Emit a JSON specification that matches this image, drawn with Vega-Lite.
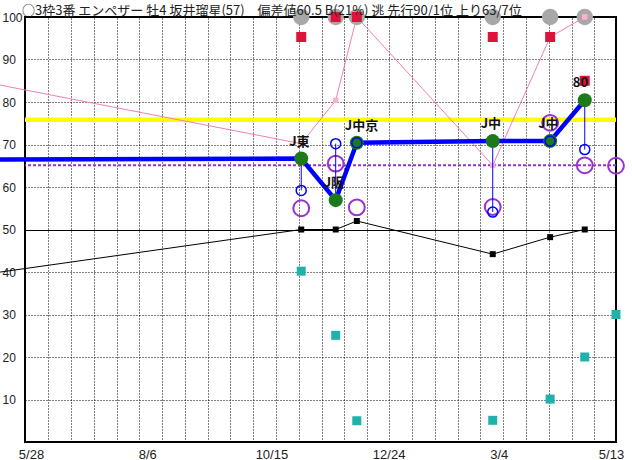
{
  "$schema": "https://vega.github.io/schema/vega-lite/v6.json",
  "width": 591,
  "height": 425,
  "autosize": "none",
  "padding": {"left": 25, "top": 17, "right": 16, "bottom": 18},
  "background": "white",
  "title": {
    "text": "○3枠3番 エンペザー 牡4 坂井瑠星(57)　偏差値60.5 B(21%) 逃 先行90/1位 上り63/7位",
    "anchor": "start",
    "frame": "group",
    "font": "Noto Sans CJK JP",
    "fontSize": 13,
    "fontWeight": "normal",
    "color": "#222222",
    "dx": -3,
    "offset": -9
  },
  "config": {
    "view": {"stroke": "#000000", "strokeWidth": 2},
    "axis": {"domain": false, "ticks": false}
  },
  "resolve": {"axis": {"x": "independent"}},
  "datasets": {
    "races": [
      {"date": "2022-04-08T00:00:00Z", "score": 66.45, "pink": 86.7, "black": 38.0},
      {"date": "2022-11-07T14:00:00Z", "score": 66.7, "sub": 59.2, "purple": 55.0, "gray": 100, "red": 95.3, "pink": 70.2, "black": 50.0, "teal": 40.2, "label": "J東"},
      {"date": "2022-11-28T00:00:00Z", "score": 56.9, "sub": 70.2, "purple": 65.5, "gray": 100, "red": 100, "pink": 80.4, "black": 50.0, "teal": 25.1, "label": "J阪"},
      {"date": "2022-12-10T12:00:00Z", "score": 70.4, "sub": 70.4, "purple": 55.2, "gray": 100, "red": 100, "pink": 100, "black": 52.0, "teal": 5.0, "label": "J中京"},
      {"date": "2023-03-01T00:00:00Z", "score": 70.8, "sub": 54.1, "purple": 55.3, "gray": 100, "red": 95.3, "pink": 65.1, "black": 44.2, "teal": 5.1, "label": "J中"},
      {"date": "2023-04-04T00:00:00Z", "score": 70.8, "sub": 70.8, "purple": 75.1, "gray": 100, "red": 95.3, "pink": 95.3, "black": 48.2, "teal": 10.1, "label": "J中"},
      {"date": "2023-04-24T12:00:00Z", "score": 80.4, "sub": 68.8, "purple": 65.1, "gray": 100, "red": 85.0, "pink": 100, "black": 50.0, "teal": 20.0, "label": "80"},
      {"date": "2023-05-13T00:00:00Z", "purple": 65.0, "teal": 30.0}
    ],
    "refs": [
      {"kind": "yellow", "level": 75.8},
      {"kind": "purple", "level": 65.1}
    ]
  },
  "layer": [
    {
      "data": {"name": "refs"},
      "transform": [{"filter": "datum.kind == 'yellow'"}],
      "mark": {"type": "rule", "color": "#FFFF00", "strokeWidth": 4.5},
      "encoding": {
        "y": {
          "field": "level", "type": "quantitative", "title": null,
          "scale": {"domain": [0, 100], "nice": false, "zero": false},
          "axis": {
            "title": null,
            "values": [10, 20, 30, 40, 50, 60, 70, 80, 90, 100],
            "grid": true,
            "gridColor": "#000000",
            "gridOpacity": 1,
            "gridWidth": 1,
            "gridDash": {"condition": {"test": "datum.value == 50", "value": []}, "value": [1, 2]},
            "labelAlign": "left",
            "labelPadding": 23,
            "labelFont": "Liberation Sans",
            "labelFontSize": 12,
            "labelColor": "#222222"
          }
        }
      }
    },
    {
      "data": {"name": "refs"},
      "transform": [{"filter": "datum.kind == 'purple'"}],
      "mark": {"type": "rule", "color": "#9932CC", "strokeWidth": 2, "strokeDash": [3, 2]},
      "encoding": {"y": {"field": "level", "type": "quantitative", "title": null}}
    },
    {
      "data": {"name": "races"},
      "transform": [{"filter": "isValid(datum.black)"}],
      "mark": {"type": "line", "color": "#000000", "strokeWidth": 1},
      "encoding": {
        "x": {
          "field": "date", "type": "temporal", "title": null,
          "scale": {"type": "utc", "domain": [1653696000000, 1683936000000]},
          "axis": {
            "orient": "top",
            "title": null,
            "values": [1653696000000, 1654872852792, 1656049705584, 1657226558376, 1658403411168, 1659529096447, 1660705949239, 1661882802030, 1663059654822, 1664185340102, 1665362192893, 1666539045685, 1667715898477, 1668892751269, 1670018436548, 1671195289340, 1672320974619, 1673497827411, 1674674680203, 1675851532995, 1676977218274, 1678154071066, 1679330923858, 1680507776650, 1681684629441, 1682810314721],
            "grid": true,
            "gridColor": "#000000",
            "gridWidth": 1,
            "gridOpacity": 1,
            "gridDash": [1, 2],
            "labels": false,
            "ticks": false,
            "domain": false
          }
        },
        "y": {"field": "black", "type": "quantitative", "title": null}
      }
    },
    {
      "data": {"name": "races"},
      "transform": [{"filter": "isValid(datum.black)"}],
      "mark": {"type": "point", "shape": "square", "filled": true, "color": "#000000", "size": 36, "opacity": 1},
      "encoding": {
        "x": {
          "field": "date", "type": "temporal", "title": null,
          "axis": {
            "orient": "bottom",
            "title": null,
            "values": [1653696000000, 1659744000000, 1665792000000, 1671840000000, 1677888000000, 1683936000000],
            "grid": false,
            "ticks": false,
            "domain": false,
            "labelExpr": "utcFormat(datum.value, '%-m/%-d')",
            "labelFlush": false,
            "labelBound": false,
            "labelOverlap": false,
            "labelPadding": 6,
            "labelFont": "Liberation Sans",
            "labelFontSize": 13,
            "labelColor": "#222222",
            "labelOffset": {"expr": "time(datum.value) < 1656000000000 ? 6 : time(datum.value) < 1662000000000 ? 4 : time(datum.value) < 1668000000000 ? 10 : time(datum.value) < 1674000000000 ? 9 : time(datum.value) < 1680000000000 ? 1 : -5"}
          }
        },
        "y": {"field": "black", "type": "quantitative", "title": null}
      }
    },
    {
      "data": {"name": "races"},
      "transform": [{"filter": "isValid(datum.teal)"}],
      "mark": {"type": "point", "shape": "square", "filled": true, "color": "#20B2AA", "size": 81, "opacity": 1},
      "encoding": {
        "x": {"field": "date", "type": "temporal", "title": null, "axis": null},
        "y": {"field": "teal", "type": "quantitative", "title": null}
      }
    },
    {
      "data": {"name": "races"},
      "transform": [{"filter": "isValid(datum.gray)"}],
      "mark": {"type": "point", "shape": "circle", "filled": true, "color": "#A8A8A8", "size": 270, "opacity": 1},
      "encoding": {
        "x": {"field": "date", "type": "temporal", "title": null, "axis": null},
        "y": {"field": "gray", "type": "quantitative", "title": null}
      }
    },
    {
      "data": {"name": "races"},
      "transform": [{"filter": "isValid(datum.pink)"}],
      "mark": {"type": "line", "color": "#F080B8", "strokeWidth": 1},
      "encoding": {
        "x": {"field": "date", "type": "temporal", "title": null, "axis": null},
        "y": {"field": "pink", "type": "quantitative", "title": null}
      }
    },
    {
      "data": {"name": "races"},
      "transform": [{"filter": "isValid(datum.pink)"}],
      "mark": {"type": "point", "shape": "square", "filled": true, "color": "#FFB0D0", "size": 30, "opacity": 1},
      "encoding": {
        "x": {"field": "date", "type": "temporal", "title": null, "axis": null},
        "y": {"field": "pink", "type": "quantitative", "title": null}
      }
    },
    {
      "data": {"name": "races"},
      "transform": [{"filter": "isValid(datum.red)"}],
      "mark": {"type": "point", "shape": "square", "filled": true, "color": "#DC143C", "size": 100, "opacity": 1},
      "encoding": {
        "x": {"field": "date", "type": "temporal", "title": null, "axis": null},
        "y": {"field": "red", "type": "quantitative", "title": null}
      }
    },
    {
      "data": {"name": "races"},
      "transform": [{"filter": "isValid(datum.purple)"}],
      "mark": {"type": "point", "shape": "circle", "filled": false, "color": "#9932CC", "size": 250, "strokeWidth": 2, "opacity": 1},
      "encoding": {
        "x": {"field": "date", "type": "temporal", "title": null, "axis": null},
        "y": {"field": "purple", "type": "quantitative", "title": null}
      }
    },
    {
      "data": {"name": "races"},
      "transform": [{"filter": "isValid(datum.score)"}],
      "mark": {"type": "line", "color": "#0000FF", "strokeWidth": 4.5},
      "encoding": {
        "x": {"field": "date", "type": "temporal", "title": null, "axis": null},
        "y": {"field": "score", "type": "quantitative", "title": null}
      }
    },
    {
      "data": {"name": "races"},
      "transform": [{"filter": "isValid(datum.score) && isValid(datum.sub)"}],
      "mark": {"type": "rule", "color": "#0000FF", "strokeWidth": 1},
      "encoding": {
        "x": {"field": "date", "type": "temporal", "title": null, "axis": null},
        "y": {"field": "score", "type": "quantitative", "title": null},
        "y2": {"field": "sub"}
      }
    },
    {
      "data": {"name": "races"},
      "transform": [{"filter": "isValid(datum.score) && isValid(datum.label)"}],
      "mark": {"type": "point", "shape": "circle", "filled": true, "color": "#1C7A1C", "size": 196, "opacity": 1},
      "encoding": {
        "x": {"field": "date", "type": "temporal", "title": null, "axis": null},
        "y": {"field": "score", "type": "quantitative", "title": null}
      }
    },
    {
      "data": {"name": "races"},
      "transform": [{"filter": "isValid(datum.sub)"}],
      "mark": {"type": "point", "shape": "circle", "filled": false, "color": "#0000FF", "size": 100, "strokeWidth": 1.5, "opacity": 1},
      "encoding": {
        "x": {"field": "date", "type": "temporal", "title": null, "axis": null},
        "y": {"field": "sub", "type": "quantitative", "title": null}
      }
    },
    {
      "data": {"name": "races"},
      "transform": [{"filter": "isValid(datum.label)"}],
      "mark": {"type": "text", "align": "left", "baseline": "middle", "dx": -12, "dy": -17, "font": "Noto Sans CJK JP", "fontSize": 13, "fontWeight": "bold", "color": "#111111"},
      "encoding": {
        "x": {"field": "date", "type": "temporal", "title": null, "axis": null},
        "y": {"field": "score", "type": "quantitative", "title": null},
        "text": {"field": "label"}
      }
    }
  ]
}
